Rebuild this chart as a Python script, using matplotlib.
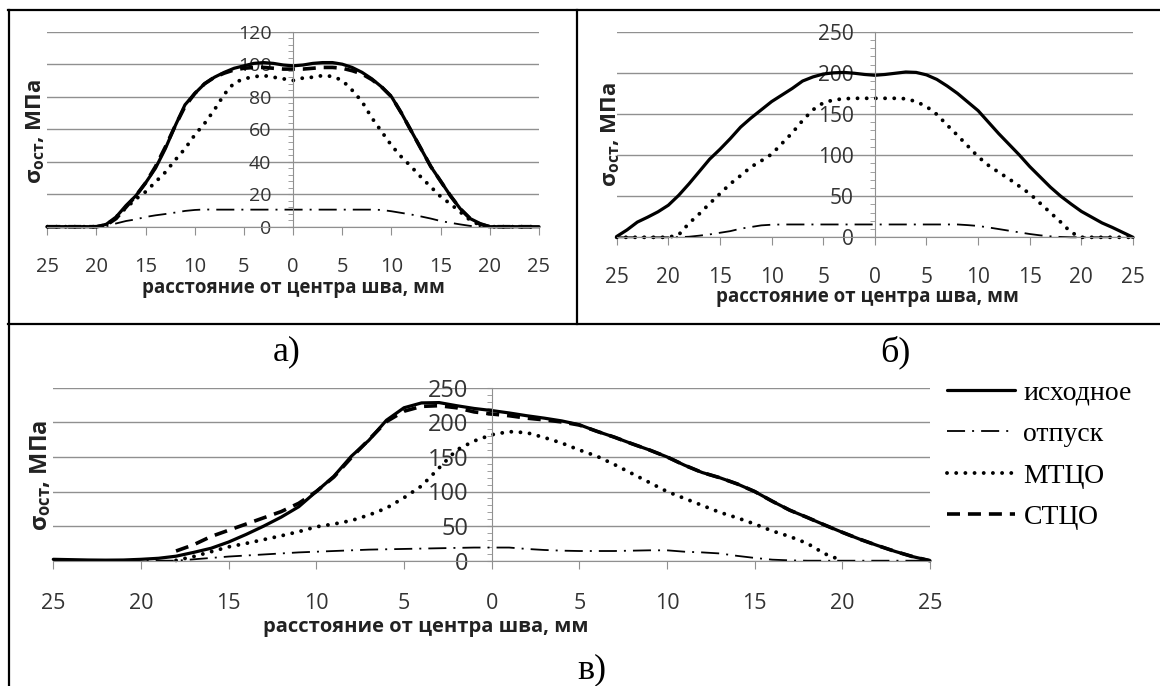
import numpy as np
import matplotlib
matplotlib.use('Agg')
import matplotlib.pyplot as plt
from matplotlib.lines import Line2D
from matplotlib.ticker import MultipleLocator, FuncFormatter

plt.rcParams['font.family'] = ['Open Sans', 'DejaVu Sans']
plt.rcParams['mathtext.fontset'] = 'custom'
plt.rcParams['mathtext.rm'] = 'Open Sans:bold'
plt.rcParams['mathtext.it'] = 'Open Sans:bold'
plt.rcParams['mathtext.bf'] = 'Open Sans:bold'

nan = np.nan
x_mm = np.arange(-25, 26)

# а) — значения для x = -25 ... 25 мм
a_ishod = [0, 0, 0, 0, 0, 0,
           1.5, 6, 13, 19, 27, 36, 48, 62, 75, 82,
           88, 92, 95, 97.5, 99, 100.5, 101, 100.5, 99.5, 99,
           99.5, 100.5, 101, 101, 100, 98, 95, 91, 86, 80,
           70, 59, 48, 37, 28, 19, 11, 5, 2, 0,
           0, 0, 0, 0, 0]
a_otpusk = [0, 0, 0, 0, 0, 0,
            0.3, 2, 3.5, 4.5, 6, 7, 7.8, 8.7, 9.7, 10.3,
            10.6, 10.5, 10.5, 10.5, 10.5, 10.5, 10.5, 10.5, 10.5, 10.5,
            10.5, 10.5, 10.5, 10.5, 10.5, 10.5, 10.5, 10.5, 10.3, 9.5,
            8.5, 7.5, 6.3, 5, 3.5, 2.4, 1.4, 0.5, 0, 0,
            0, 0, 0, 0, 0]
a_mtco = [0, 0, 0, 0, 0, 0,
          1, 6, 11.5, 17, 21.5, 27.5, 33.5, 41, 48, 56.5,
          63.6, 72, 81.5, 88.5, 91, 92.3, 93, 92, 91, 90,
          91.5, 92, 93, 92.5, 90, 84, 77, 67, 58.5, 50,
          43, 37, 30.5, 24.5, 18.5, 14, 9, 4, 1, 0,
          0, 0, 0, 0, 0]
a_stco = [0, 0, 0, 0, 0, 0,
          1, 5, 12, 19, 27, 37, 49, 62, 74, 82,
          88, 92, 94.5, 96.5, 97.5, 98, 98, 97.5, 97, 97,
          97, 97.5, 98, 98, 97.5, 96, 94, 90.5, 86, 80,
          70, 59, 48, 37, 28, 19, 11, 5, 1.5, 0,
          0, 0, 0, 0, 0]

# б)
b_ishod = [1, 9, 18.5, 24.5, 31, 39, 51, 65, 80, 95,
           107, 120, 134, 145, 155, 165, 173, 181, 190, 195,
           198.5, 200, 200.5, 199.5, 198, 197, 198, 199.5, 201, 200.5,
           197.5, 192, 184, 175, 164.5, 154, 140, 126, 113, 100,
           86, 73.5, 61, 50, 40.5, 31.5, 24.5, 17.5, 12, 6,
           0]
b_otpusk = [0, 0, 0, 0, 0, 0, 0.2, 0.7, 2, 3.5,
            5.5, 7.5, 10.5, 12.5, 14.5, 15.3, 15.6, 15.6, 15.6, 15.6,
            15.6, 15.6, 15.6, 15.6, 15.6, 15.6, 15.6, 15.6, 15.6, 15.6,
            15.6, 15.6, 15.6, 15.6, 14.8, 13.8, 12, 10, 8, 6,
            4, 2.4, 1.2, 0.4, 0, 0, 0, 0, 0, 0,
            0]
b_mtco = [0, 0, 0, 0, 0, 0, 3, 17, 28.5, 41,
          53, 65, 75, 85.5, 93, 101, 114, 127, 142, 155,
          163.5, 167, 168.5, 169, 169, 169, 169, 169, 168.5, 165,
          159, 149.5, 136.5, 124, 111, 98, 87.5, 79, 71, 62,
          53, 41.5, 30, 18.5, 6, 0, 0, 0, 0, 0,
          0]

# в)
c_ishod = [2, 1.5, 1, 0.8, 1, 2, 3.5, 6.5, 12, 18,
           27, 38, 50, 63, 78, 100, 122, 151, 174, 203,
           221, 228, 228.5, 224, 220, 217, 213.5, 209.5, 206, 202,
           196.5, 187, 178.5, 169, 160, 150, 138, 127.5, 120, 111,
           100, 86, 73, 62.5, 51.5, 41, 31, 22, 13.5, 6,
           0]
c_otpusk = [0, 0, 0, 0, 0, 0, 0, 0, 2, 4,
            6, 7.5, 9, 10.5, 12, 13, 14, 15, 16, 16.5,
            17, 17.5, 18, 18.5, 19, 19, 19, 17, 15.5, 14.5,
            14, 14, 14, 14.5, 15, 15, 13, 12, 10.5, 7,
            4, 1.5, 0.5, 0, 0, 0, 0, 0, 0, 0,
            0]
c_mtco = [nan, nan, nan, nan, nan, nan, nan, 0.5, 6, 13,
          20, 25, 30.5, 36, 42, 49, 53, 58, 66, 76,
          91, 108, 134, 160, 173, 182, 186.5, 185, 178, 170,
          160, 151, 139, 126, 113, 100, 90, 80, 70, 62,
          53, 43, 35, 25, 10, 0, nan, nan, nan, nan,
          nan]
c_stco = [nan, nan, nan, nan, nan, nan, nan, 14, 23, 35,
          44, 53, 62, 71, 83, 100, 121, 149, 175, 201,
          216, 223, 224, 221, 215, 212, 209.5, 206, 203.5, 200.5,
          196, 187, 178.5, 169, 160, 150, 138, 127.5, 120, 111,
          100, 86, 73, 62.5, 51.5, 41, 31, 22, 13.5, 6,
          0]

names = ['исходное', 'отпуск', 'МТЦО', 'СТЦО']
ylabel = r'$\sigma_{ост}$, МПа'
xlabel = 'расстояние от центра шва, мм'

W, H = 1160, 686
grid_c = '#909090'
fig = plt.figure(figsize=(W / 100, H / 100), dpi=100)


def axes_px(l, r, t, b):
    return fig.add_axes([l / W, 1 - b / H, (r - l) / W, (b - t) / H])


def draw(ax, ys):
    ax.plot(x_mm, ys[0], color='black', lw=2.3, solid_capstyle='round',
            clip_on=False, label=names[0])
    ax.plot(x_mm, ys[1], color='black', lw=1.3, dashes=(10, 3.9, 1.1, 3.9),
            clip_on=False, label=names[1])
    ax.plot(x_mm, ys[2], color='black', lw=2.8, dashes=(0.01, 2.35),
            dash_capstyle='round', clip_on=False, label=names[2])
    if len(ys) > 3:
        ax.plot(x_mm, ys[3], color='black', lw=2.6, dashes=(3.6, 2.2),
                clip_on=False, label=names[3])


def style(ax, ymax, ystep, fs_x, fs_y, xpad, ypad, fs_lab, xl_pos, yl_pos):
    ax.set_xlim(-25, 25)
    ax.set_ylim(0, ymax)
    ax.spines['top'].set_visible(False)
    ax.spines['right'].set_visible(False)
    ax.spines['left'].set_position(('data', 0))
    ax.spines['left'].set_color(grid_c)
    ax.spines['bottom'].set_color(grid_c)
    ax.xaxis.set_major_locator(MultipleLocator(5))
    ax.xaxis.set_major_formatter(FuncFormatter(lambda v, p: '%d' % abs(round(v))))
    ax.yaxis.set_major_locator(MultipleLocator(ystep))
    ax.yaxis.set_minor_locator(MultipleLocator(ystep / 5))
    ax.yaxis.grid(True, color=grid_c, lw=1)
    ax.set_axisbelow(True)
    ax.tick_params(axis='x', direction='out', length=5.8, color=grid_c,
                   labelsize=fs_x, pad=xpad, labelcolor='#333333')
    ax.tick_params(axis='y', which='both', direction='out', length=3.6,
                   color=grid_c, labelsize=fs_y, pad=ypad, labelcolor='#333333')
    ax.set_xlabel(xlabel, fontsize=fs_lab, fontweight='bold', color='#222222')
    ax.set_ylabel(ylabel, fontsize=fs_lab + 2.5, fontweight='bold', color='#222222')
    ax.xaxis.set_label_coords(*xl_pos)
    ax.yaxis.set_label_coords(*yl_pos)


ax_a = axes_px(47.3, 539, 31.7, 226.7)
draw(ax_a, [a_ishod, a_otpusk, a_mtco, a_stco])
style(ax_a, 120, 20, 14.5, 14, 16, 12, 13.5, (0.5, -0.263), (0.0, 0.49))

ax_b = axes_px(616.7, 1133, 31.7, 237.3)
draw(ax_b, [b_ishod, b_otpusk, b_mtco])
style(ax_b, 250, 50, 15, 15, 15.5, 11.5, 13.5, (0.485, -0.242), (0.01, 0.5))

ax_c = axes_px(53.3, 930, 387.7, 560.7)
draw(ax_c, [c_ishod, c_otpusk, c_mtco, c_stco])
style(ax_c, 250, 50, 15.5, 17, 17.5, 13, 14.5, (0.425, -0.325), (0.0, 0.495))

ax_c.legend(loc='upper left', bbox_to_anchor=(947 / W, 1 - 380 / H),
            bbox_transform=fig.transFigure, frameon=False, borderpad=0,
            borderaxespad=0, handlelength=2.45, handletextpad=0.3,
            labelspacing=0.58,
            prop={'family': ['Liberation Serif', 'DejaVu Serif'], 'size': 20})

# подписи рисунков
for txt, xx, yy in [('а)', 287, 352), ('б)', 895, 352), ('в)', 592, 670)]:
    fig.text(xx / W, 1 - yy / H, txt, ha='center', va='center', fontsize=26,
             family=['Liberation Serif', 'DejaVu Serif'])

# рамка таблицы
for (x0, y0, x1, y1) in [(8, 10, 1160, 10), (9, 10, 9, 686),
                         (577, 10, 577, 324), (8, 324, 1160, 324)]:
    fig.add_artist(Line2D([x0 / W, x1 / W], [1 - y0 / H, 1 - y1 / H],
                          transform=fig.transFigure, color='black', lw=1.6))

fig.savefig('out.png', dpi=100)
